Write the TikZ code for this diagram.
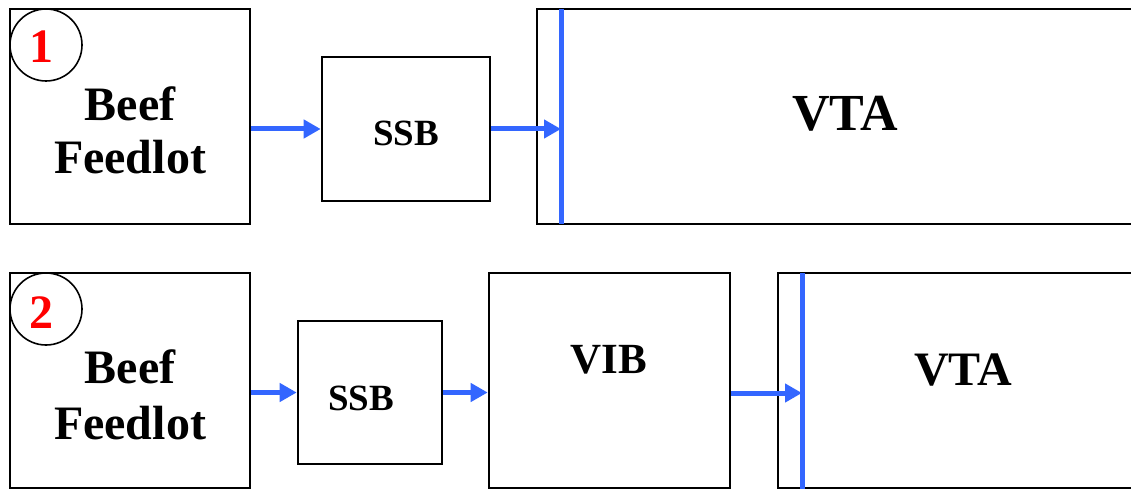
\documentclass[tikz,border=0pt]{standalone}
\usepackage{fontspec}
\setmainfont{Liberation Serif}
\usetikzlibrary{arrows.meta}
\definecolor{flowblue}{RGB}{51,102,255}
\tikzset{
  box/.style={draw=black, line width=2.6pt, fill=none, inner sep=0pt},
  numcirc/.style={draw=black, line width=1.6pt, circle, minimum size=72pt, inner sep=0pt},
  flow/.style={draw=flowblue, line width=5pt, -{Triangle[length=17pt,width=18pt]}},
  bar/.style={draw=flowblue, line width=5pt},
  txt/.style={anchor=base, inner sep=0pt, font=\bfseries},
}
\begin{document}
\begin{tikzpicture}[x=1pt,y=-1pt]
\clip (0,0) rectangle (1131,489);
\fill[white] (0,0) rectangle (1131,489);
% ---- row 1 ----
\node[box, minimum width=240pt, minimum height=215pt] (beef1) at (130,116.5) {};
\node[numcirc] (c1) at (46,45) {};
\node[txt, text=red, font=\bfseries\fontsize{48}{48}\selectfont] (n1) at (41,63) {1};
\node[txt, font=\bfseries\fontsize{48}{48}\selectfont] (b1a) at (130,121) {Beef};
\node[txt, font=\bfseries\fontsize{48}{48}\selectfont] (b1b) at (130,174) {Feedlot};
\node[box, minimum width=168pt, minimum height=144pt] (ssb1) at (406,129) {};
\node[txt, font=\bfseries\fontsize{37}{37}\selectfont] (s1) at (406,146) {SSB};
\node[box, minimum width=603pt, minimum height=215pt] (vta1) at (838.5,116.5) {};
\node[txt, font=\bfseries\fontsize{52}{52}\selectfont] (v1) at (845,131) {VTA};
\coordinate (bar1t) at (561,9);
\coordinate (bar1b) at (561,224);
\coordinate (bar1m) at (561,129);
\draw[bar] (bar1t) -- (bar1b);
\draw[flow] (beef1.east |- ssb1.west) -- (ssb1.west);
\draw[flow] (ssb1.east) -- (bar1m);
% ---- row 2 ----
\node[box, minimum width=240pt, minimum height=215pt] (beef2) at (130,380.5) {};
\node[numcirc] (c2) at (46,309) {};
\node[txt, text=red, font=\bfseries\fontsize{48}{48}\selectfont] (n2) at (41,328) {2};
\node[txt, font=\bfseries\fontsize{48}{48}\selectfont] (b2a) at (130,383) {Beef};
\node[txt, font=\bfseries\fontsize{48}{48}\selectfont] (b2b) at (130,439) {Feedlot};
\node[box, minimum width=144pt, minimum height=143pt] (ssb2) at (370,392.5) {};
\node[txt, font=\bfseries\fontsize{37}{37}\selectfont] (s2) at (361,410) {SSB};
\node[box, minimum width=241pt, minimum height=215pt] (vib) at (609.5,380.5) {};
\node[txt, font=\bfseries\fontsize{43}{43}\selectfont] (vibt) at (609,373) {VIB};
\node[box, minimum width=362pt, minimum height=215pt] (vta2) at (959,380.5) {};
\node[txt, font=\bfseries\fontsize{48}{48}\selectfont] (v2) at (963,385) {VTA};
\coordinate (bar2t) at (802,273);
\coordinate (bar2b) at (802,489);
\coordinate (bar2m) at (802,393);
\draw[bar] (bar2t) -- (bar2b);
\draw[flow] (beef2.east |- ssb2.west) -- (ssb2.west);
\draw[flow] (ssb2.east) -- (ssb2.east -| vib.west);
\draw[flow] (vib.east |- bar2m) -- (bar2m);
\end{tikzpicture}
\end{document}
